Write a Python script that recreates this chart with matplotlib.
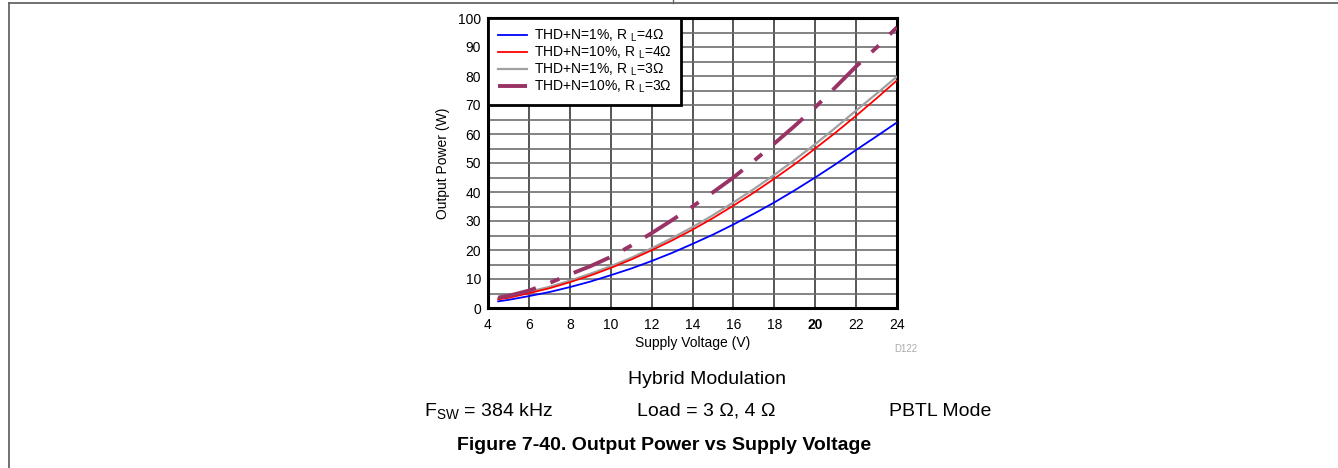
import matplotlib
matplotlib.use("Agg")
import matplotlib.pyplot as plt
from matplotlib.lines import Line2D

plt.rcParams["font.family"] = ["Liberation Sans", "DejaVu Sans"]
plt.rcParams["mathtext.default"] = "regular"

# supply voltage (V) and output power (W) per curve
voltage = [4.5, 5, 6, 7, 8, 9, 10, 11, 12, 13, 14, 15, 16, 17, 18, 19, 20, 21, 22, 23, 24]
p_1pct_4ohm = [2.3, 2.8, 4.1, 5.5, 7.2, 9.1, 11.3, 13.6, 16.2, 19.0, 22.1, 25.3, 28.8, 32.5,
               36.4, 40.6, 45.0, 49.6, 54.5, 59.2, 64.0]
p_10pct_4ohm = [3.0, 3.5, 5.1, 6.8, 8.9, 11.2, 13.8, 16.7, 19.9, 23.3, 27.0, 31.0, 35.3, 39.8,
                44.6, 49.6, 55.0, 60.5, 66.3, 72.3, 78.5]
p_1pct_3ohm = [3.4, 4.0, 5.6, 7.3, 9.4, 11.8, 14.4, 17.3, 20.6, 24.1, 27.9, 32.0, 36.4, 41.0,
               45.9, 51.1, 56.5, 62.2, 68.1, 73.9, 79.8]
p_10pct_3ohm = [3.6, 4.2, 6.0, 8.6, 11.6, 14.4, 17.6, 21.5, 25.8, 30.3, 35.0, 39.9, 45.0, 50.7,
                56.7, 62.8, 69.2, 76.2, 83.3, 89.8, 96.8]

labels = ["THD+N=1%, R $_{L}$=4\u03a9", "THD+N=10%, R $_{L}$=4\u03a9",
          "THD+N=1%, R $_{L}$=3\u03a9", "THD+N=10%, R $_{L}$=3\u03a9"]
x_ticks = [4, 6, 8, 10, 12, 14, 16, 18, 20, 22, 24]
y_ticks = [0, 10, 20, 30, 40, 50, 60, 70, 80, 90, 100]

fig = plt.figure(figsize=(13.38, 4.68), dpi=100)
ax = fig.add_axes([488 / 1338, 1 - 308 / 468, 409 / 1338, 290 / 468])

ax.plot(voltage, p_1pct_4ohm, color="#0000ff", lw=1.3, label=labels[0], zorder=3)
ax.plot(voltage, p_10pct_4ohm, color="#ff0000", lw=1.3, label=labels[1], zorder=4)
ax.plot(voltage, p_1pct_3ohm, color="#a0a0a0", lw=1.6, label=labels[2], zorder=3)
ax.plot(voltage, p_10pct_3ohm, color="#993366", lw=2.8, dashes=(10, 4, 2.5, 4),
        dash_capstyle="butt", label=labels[3], zorder=5)

ax.set_xlim(4, 24)
ax.set_ylim(0, 100)
ax.set_xticks(x_ticks)
ax.set_yticks(y_ticks)
ax.set_yticks(range(5, 100, 10), minor=True)
ax.tick_params(which="both", length=0, labelsize=10)
ax.tick_params(axis="x", pad=7)
ax.tick_params(axis="y", pad=5)
for t in ax.get_xticklabels():
    if t.get_text() == "20":
        t.set_fontweight("bold")

ax.grid(axis="x", color="#383838", lw=1.2)
ax.grid(axis="y", which="both", color="#6e6e6e", lw=1.2)
ax.set_axisbelow(True)
for s in ax.spines.values():
    s.set_linewidth(2.2)
    s.set_color("black")

ax.set_xlabel("Supply Voltage (V)", fontsize=10, labelpad=3)
ax.set_ylabel("Output Power (W)", fontsize=10, labelpad=6)

leg = ax.legend(loc="upper left", borderaxespad=0, fontsize=10, handlelength=2.1,
                handletextpad=0.5, labelspacing=0.05, borderpad=0.7, fancybox=False,
                framealpha=1, edgecolor="black")
leg.get_frame().set_linewidth(2.0)
leg.set_zorder(10)

fig.text(917 / 1338, 1 - 349 / 468, "D122", fontsize=7, color="#aaaaaa", ha="right", va="center")

# captions under the chart
fig.text(707 / 1338, 1 - 380 / 468, "Hybrid Modulation", fontsize=14, ha="center", va="center")
fig.text(424 / 1338, 1 - 411 / 468, "F$_{SW}$ = 384 kHz", fontsize=14, ha="left", va="center")
fig.text(637 / 1338, 1 - 411 / 468, "Load = 3 \u03a9, 4 \u03a9", fontsize=14, ha="left", va="center")
fig.text(889 / 1338, 1 - 411 / 468, "PBTL Mode", fontsize=14, ha="left", va="center")
fig.text(664 / 1338, 1 - 445 / 468, "Figure 7-40. Output Power vs Supply Voltage", fontsize=14,
         fontweight="bold", ha="center", va="center")

# page frame
fig.add_artist(Line2D([9 / 1338, 1], [1 - 2.5 / 468] * 2, color="#666666", lw=1.3))
fig.add_artist(Line2D([9 / 1338] * 2, [0, 1 - 2.5 / 468], color="#666666", lw=1.3))
fig.add_artist(Line2D([673 / 1338] * 2, [1 - 2.5 / 468, 1], color="#666666", lw=1.0))

fig.savefig("out.png", dpi=100)
